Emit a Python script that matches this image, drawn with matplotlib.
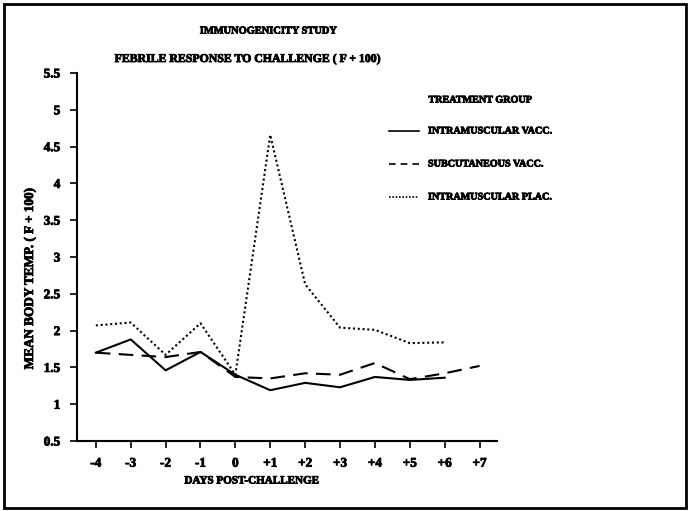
import numpy as np
import matplotlib.pyplot as plt
import matplotlib.patheffects as pe
from matplotlib.patches import Rectangle

# data
days = [-4, -3, -2, -1, 0, 1, 2, 3, 4, 5, 6, 7]
day_labels = ['-4', '-3', '-2', '-1', '0', '+1', '+2', '+3', '+4', '+5', '+6', '+7']

im_vacc = [1.70, 1.88, 1.46, 1.71, 1.40, 1.19, 1.29, 1.23, 1.37, 1.33, 1.36]
sc_vacc = [1.70, 1.67, 1.64, 1.71, 1.37, 1.35, 1.42, 1.40, 1.56, 1.34, 1.42, 1.52]
im_plac = [2.07, 2.11, 1.67, 2.10, 1.40, 4.66, 2.63, 2.04, 2.01, 1.83, 1.84]

yticks = [0.5, 1, 1.5, 2, 2.5, 3, 3.5, 4, 4.5, 5, 5.5]
ytick_labels = ['0.5', '1', '1.5', '2', '2.5', '3', '3.5', '4', '4.5', '5', '5.5']

W, H = 690, 511
# the scan's text is smeared and heavy, a thin stroke mimics that
heavy = [pe.withStroke(linewidth=0.6, foreground='black')]
font = dict(family='Liberation Serif', weight='bold', size=8, path_effects=heavy)
tick_font = dict(family='Liberation Serif', weight='bold', size=9.5, path_effects=heavy)

fig = plt.figure(figsize=(W / 100, H / 100), dpi=100)
fig.patch.set_facecolor('white')

# outer frame of the page
fig.patches.append(Rectangle((4 / W, 3 / H), 682 / W, 504 / H, transform=fig.transFigure,
                             fill=False, edgecolor='black', linewidth=2))

ax = fig.add_axes([77 / W, 1 - 441 / H, (497 - 77) / W, (441 - 73) / H])
ax.plot(days[:len(im_vacc)], im_vacc, color='black', lw=1.5, ls='-')
ax.plot(days[:len(sc_vacc)], sc_vacc, color='black', lw=1.5, ls=(0, (7, 4)))
ax.plot(days[:len(im_plac)], im_plac, color='black', lw=1.5, ls=(0, (1, 1.3)))

ax.set_xlim(-4.54, 7.5)
ax.set_ylim(0.5, 5.5)
ax.set_xticks(days)
ax.set_xticklabels(day_labels, **tick_font)
ax.set_yticks(yticks)
ax.set_yticklabels(ytick_labels, **tick_font)
ax.tick_params(direction='out', length=5, width=1.2, pad=7, colors='black')
for s in ['top', 'right']:
    ax.spines[s].set_visible(False)
for s in ['left', 'bottom']:
    ax.spines[s].set_linewidth(1.5)

# titles and axis labels placed as in the scan
fig.text(268 / W, 1 - 31 / H, 'IMMUNOGENICITY STUDY', ha='center', va='center',
         family='Liberation Serif', weight='bold', size=7.5, path_effects=heavy)
fig.text(247 / W, 1 - 59 / H, 'FEBRILE RESPONSE TO CHALLENGE ( F + 100)', ha='center', va='center',
         family='Liberation Serif', weight='bold', size=8.5, path_effects=heavy)
fig.text(252 / W, 1 - 481 / H, 'DAYS POST-CHALLENGE', ha='center', va='center', **font)
fig.text(30 / W, 1 - 278 / H, 'MEAN BODY TEMP. ( F + 100)', ha='center', va='center', rotation=90,
         family='Liberation Serif', weight='bold', size=9.5, path_effects=heavy)

# legend drawn by hand like the original
fig.text(480 / W, 1 - 100 / H, 'TREATMENT GROUP', ha='center', va='center',
         family='Liberation Serif', weight='bold', size=7.3, path_effects=heavy)
legend_items = [('INTRAMUSCULAR VACC.', '-'),
                ('SUBCUTANEOUS VACC.', (0, (4, 3))),
                ('INTRAMUSCULAR PLAC.', (0, (1, 1)))]
for i, (lab, ls) in enumerate(legend_items):
    yy = 1 - (131 + i * 33) / H
    fig.add_artist(plt.Line2D([389 / W, 419 / W], [yy, yy], color='black', lw=1.2, ls=ls,
                              transform=fig.transFigure))
    fig.text(428 / W, yy, lab, ha='left', va='center',
             family='Liberation Serif', weight='bold', size=7.3, path_effects=heavy)

fig.savefig('out.png', dpi=100, facecolor='white')
